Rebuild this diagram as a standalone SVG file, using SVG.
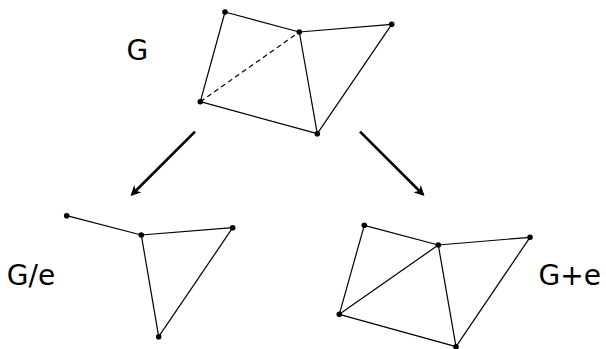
<svg xmlns="http://www.w3.org/2000/svg" width="606" height="349" viewBox="0 0 606 349">
  <style>
    .edge { stroke: #000; stroke-width: 1.2; fill: none; }
    .dash { stroke-dasharray: 5 3.5; }
    .dot { fill: #000; }
    .lbl { font-family: "DejaVu Sans", sans-serif; font-size: 28px; fill: #000; }
    .arrow { stroke: #000; stroke-width: 2.6; fill: none; marker-end: url(#head); }
  </style>
  <defs>
    <marker id="head" viewBox="0 0 10 10" refX="8" refY="5" markerWidth="4" markerHeight="4" orient="auto" markerUnits="strokeWidth">
      <path d="M0,0 L10,5 L0,10 L3,5 Z" fill="#000"/>
    </marker>
  </defs>

  <rect width="606" height="349" fill="#fff"/>

  <!-- G -->
  <g id="graph-G">
    <text class="lbl" x="126.5" y="59.5">G</text>
    <line class="edge" x1="225" y1="12" x2="299.3" y2="32"/>
    <line class="edge" x1="299.3" y1="32" x2="391.7" y2="24.3"/>
    <line class="edge" x1="225" y1="12" x2="200.3" y2="101.7"/>
    <line class="edge dash" x1="200.3" y1="101.7" x2="299.3" y2="32"/>
    <line class="edge" x1="299.3" y1="32" x2="317.3" y2="133.7"/>
    <line class="edge" x1="391.7" y1="24.3" x2="317.3" y2="133.7"/>
    <line class="edge" x1="200.3" y1="101.7" x2="317.3" y2="133.7"/>
    <circle class="dot" cx="225" cy="12" r="2.8"/>
    <circle class="dot" cx="299.3" cy="32" r="2.8"/>
    <circle class="dot" cx="391.7" cy="24.3" r="2.8"/>
    <circle class="dot" cx="200.3" cy="101.7" r="2.8"/>
    <circle class="dot" cx="317.3" cy="133.7" r="2.8"/>
  </g>

  <!-- connectors -->
  <g id="connectors">
    <line class="arrow" x1="195" y1="131.7" x2="132" y2="194.5"/>
    <line class="arrow" x1="360" y1="131.7" x2="423" y2="194.5"/>
  </g>

  <!-- G/e -->
  <g id="graph-G-contract">
    <text class="lbl" x="6.8" y="285">G/e</text>
    <line class="edge" x1="66.7" y1="215.7" x2="141.3" y2="235"/>
    <line class="edge" x1="141.3" y1="235" x2="232.7" y2="227.7"/>
    <line class="edge" x1="141.3" y1="235" x2="158.7" y2="336.7"/>
    <line class="edge" x1="232.7" y1="227.7" x2="158.7" y2="336.7"/>
    <circle class="dot" cx="66.7" cy="215.7" r="2.8"/>
    <circle class="dot" cx="141.3" cy="235" r="2.8"/>
    <circle class="dot" cx="232.7" cy="227.7" r="2.8"/>
    <circle class="dot" cx="158.7" cy="336.7" r="2.8"/>
  </g>

  <!-- G+e -->
  <g id="graph-G-plus">
    <text class="lbl" x="538.5" y="285">G+e</text>
    <line class="edge" x1="364.3" y1="225.3" x2="438.3" y2="245"/>
    <line class="edge" x1="438.3" y1="245" x2="530" y2="237.3"/>
    <line class="edge" x1="364.3" y1="225.3" x2="339.3" y2="314.3"/>
    <line class="edge" x1="339.3" y1="314.3" x2="438.3" y2="245"/>
    <line class="edge" x1="438.3" y1="245" x2="456" y2="346.7"/>
    <line class="edge" x1="530" y1="237.3" x2="456" y2="346.7"/>
    <line class="edge" x1="339.3" y1="314.3" x2="456" y2="346.7"/>
    <circle class="dot" cx="364.3" cy="225.3" r="2.8"/>
    <circle class="dot" cx="438.3" cy="245" r="2.8"/>
    <circle class="dot" cx="530" cy="237.3" r="2.8"/>
    <circle class="dot" cx="339.3" cy="314.3" r="2.8"/>
    <circle class="dot" cx="456" cy="346.7" r="2.8"/>
  </g>
</svg>
